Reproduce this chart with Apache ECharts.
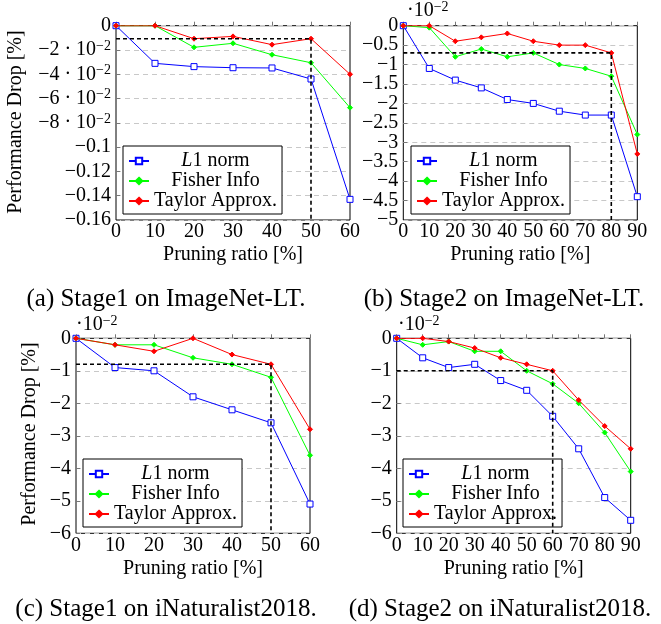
<!DOCTYPE html>
<html><head><meta charset="utf-8">
<script src="https://cdn.jsdelivr.net/npm/echarts@6/dist/echarts.min.js"></script>
<style>html,body{margin:0;padding:0;background:#fff}#c{width:661px;height:624px}</style>
</head><body><div id="c"></div><script>
const FONT = '"Liberation Serif", "Times New Roman", serif';

// Pruning ratios [%]
const ratiosStage1 = [0, 10, 20, 30, 40, 50, 60];
const ratiosStage2 = [0, 10, 20, 30, 40, 50, 60, 70, 80, 90];

// (a) Stage1 on ImageNet-LT, performance drop [%]
const aL1     = [0, -0.031, -0.0337, -0.0346, -0.0348, -0.0439, -0.143];
const aFisher = [0, 0, -0.0178, -0.0145, -0.0239, -0.0305, -0.0675];
const aTaylor = [0, 0, -0.0107, -0.0088, -0.0156, -0.0107, -0.040];
const aCut    = [50, -0.0107];

// (b) Stage2 on ImageNet-LT, performance drop [%] in units of 10^-2
const bL1     = [0, -1.1, -1.4, -1.6, -1.9, -2.0, -2.2, -2.3, -2.3, -4.4];
const bFisher = [0, -0.05, -0.8, -0.6, -0.8, -0.7, -1.0, -1.1, -1.3, -2.8];
const bTaylor = [0, 0, -0.4, -0.3, -0.2, -0.4, -0.5, -0.5, -0.7, -3.3];
const bCut    = [80, -0.7];

// (c) Stage1 on iNaturalist2018, in units of 10^-2
const cL1     = [0, -0.9, -1.0, -1.8, -2.2, -2.6, -5.1];
const cFisher = [0, -0.2, -0.2, -0.6, -0.8, -1.2, -3.6];
const cTaylor = [0, -0.2, -0.4, 0, -0.5, -0.8, -2.8];
const cCut    = [50, -0.8];

// (d) Stage2 on iNaturalist2018, in units of 10^-2
const dL1     = [0, -0.6, -0.9, -0.8, -1.3, -1.6, -2.4, -3.4, -4.9, -5.6];
const dFisher = [0, -0.2, -0.1, -0.4, -0.4, -1.0, -1.4, -2.0, -2.9, -4.1];
const dTaylor = [0, 0, -0.1, -0.3, -0.6, -0.8, -1.0, -1.9, -2.7, -3.4];
const dCut    = [60, -1.0];

const seriesNames = ['L1 norm', 'Fisher Info', 'Taylor Approx.'];
const captions = ['(a) Stage1 on ImageNet-LT.', '(b) Stage2 on ImageNet-LT.',
                  '(c) Stage1 on iNaturalist2018.', '(d) Stage2 on iNaturalist2018.'];
const yTitle = 'Performance Drop [%]';
const xTitle = 'Pruning ratio [%]';

const panels = [
  {x: ratiosStage1, l1: aL1, fi: aFisher, ta: aTaylor, cut: aCut, xMax: 60, yMin: -0.16, yInt: 0.02,
   grid: {left: 116, top: 25.7, width: 234, height: 194.3}, yName: {x: 16, y: 122},
   legend: {left: 123, top: 146}, caption: {x: 166, y: 299}, scale: null, fmt: 'a', dense: false},
  {x: ratiosStage2, l1: bL1, fi: bFisher, ta: bTaylor, cut: bCut, xMax: 90, yMin: -5, yInt: 0.5,
   grid: {left: 403.3, top: 25.7, width: 234, height: 194.3}, yName: null,
   legend: {left: 411, top: 146}, caption: {x: 504, y: 299}, scale: {x: 407, y: 11}, fmt: 'n', dense: true},
  {x: ratiosStage1, l1: cL1, fi: cFisher, ta: cTaylor, cut: cCut, xMax: 60, yMin: -6, yInt: 1,
   grid: {left: 76, top: 338.3, width: 234, height: 195}, yName: {x: 30, y: 434},
   legend: {left: 83, top: 459}, caption: {x: 166, y: 609}, scale: {x: 76, y: 325}, fmt: 'n', dense: false},
  {x: ratiosStage2, l1: dL1, fi: dFisher, ta: dTaylor, cut: dCut, xMax: 90, yMin: -6, yInt: 1,
   grid: {left: 396.7, top: 338.3, width: 234, height: 195}, yName: null,
   legend: {left: 403, top: 459}, caption: {x: 500, y: 609}, scale: {x: 398, y: 325}, fmt: 'n', dense: false}
];

const ctx = document.createElement('canvas').getContext('2d');
function tw(text, style) { ctx.font = (style || '') + ' 20px ' + FONT; return ctx.measureText(text).width; }
const TW = tw('Taylor Approx.');
const wL1 = tw('L', 'italic') + tw('1 norm');
const wFi = tw('Fisher Info');

const legendRich = {
  it: {fontStyle: 'italic', fontFamily: FONT, fontSize: 20, color: '#000', lineHeight: 20},
  n: {fontFamily: FONT, fontSize: 20, color: '#000', lineHeight: 20},
  spL: {width: (TW - wL1) / 2, height: 20},
  spF: {width: (TW - wFi) / 2, height: 20}
};
function legendFmt(name) {
  if (name === 'L1 norm') return '{spL|}{it|L}{n|1 norm}';
  if (name === 'Fisher Info') return '{spF|}{n|Fisher Info}';
  return '{n|' + name + '}';
}

function minus(s) { return s.replace('-', '\u2212'); }
function fmtA(v) {
  if (Math.abs(v) < 1e-9) return '0';
  const k = Math.round(-v * 100);
  if (k < 10) return '\u2212' + k + ' \u00b7 10{s|\u22122}';
  return '\u2212' + String(+(-v).toFixed(2));
}
function fmtN(v) {
  return Math.abs(v) < 1e-9 ? '0' : minus(String(+v.toFixed(2)));
}

const labelRich = {
  s: {fontFamily: FONT, fontSize: 14, color: '#000', padding: [0, 0, 8, 0]}
};
const labelBase = {fontFamily: FONT, fontSize: 20, color: '#000', margin: 5, hideOverlap: false};

const colors = ['#0000ff', '#00ff00', '#ff0000'];
const yAxes = panels.map((p, i) => ({
  type: 'value', gridIndex: i, position: 'left', min: p.yMin, max: 0, interval: p.yInt,
  axisLine: {show: false},
  axisTick: {show: true, inside: true, length: 4, lineStyle: {color: '#777'}},
  splitLine: {show: true, lineStyle: {color: '#c8c8c8', type: [5, 4], width: 1}},
  axisLabel: Object.assign({}, labelBase, {
    showMinLabel: !p.dense, showMaxLabel: !p.dense,
    formatter: p.fmt === 'a' ? fmtA : fmtN, rich: labelRich})
}));
// end labels for the densely labelled axis, on a companion axis of the same scale
panels.forEach((p, i) => {
  if (!p.dense) return;
  yAxes.push({
    type: 'value', gridIndex: i, position: 'left', offset: 0, min: p.yMin, max: 0, interval: -p.yMin,
    axisLine: {show: false, onZero: false}, axisTick: {show: false}, splitLine: {show: false},
    axisLabel: Object.assign({}, labelBase, {showMinLabel: true, showMaxLabel: true, formatter: fmtN})
  });
});

const option = {
  animation: false,
  backgroundColor: '#fff',
  grid: panels.map(p => Object.assign({show: true, borderColor: '#000', borderWidth: 1,
    backgroundColor: 'transparent', containLabel: false, outerBoundsMode: 'none'}, p.grid)),
  xAxis: panels.map((p, i) => ({
    type: 'value', gridIndex: i, min: 0, max: p.xMax, interval: 10,
    axisLine: {show: false},
    axisTick: {show: true, inside: true, length: 4, lineStyle: {color: '#777'}},
    splitLine: {show: false},
    axisLabel: {fontFamily: FONT, fontSize: 20, color: '#000', margin: 2,
      showMinLabel: true, showMaxLabel: true, hideOverlap: false},
    name: xTitle, nameLocation: 'middle', nameGap: 25, nameMoveOverlap: false,
    nameTextStyle: {fontFamily: FONT, fontSize: 20, color: '#000'}
  })),
  yAxis: yAxes,
  legend: panels.map(p => ({
    left: p.legend.left, top: p.legend.top, orient: 'vertical',
    data: seriesNames, itemWidth: 20, itemHeight: 8, itemGap: 0,
    padding: [5, 5, 3, 5], borderColor: '#000', borderWidth: 1, borderRadius: 0,
    backgroundColor: '#fff', selectedMode: false,
    formatter: legendFmt,
    textStyle: {fontFamily: FONT, fontSize: 20, color: '#000', rich: legendRich}
  })),
  series: [],
  graphic: []
};

panels.forEach((p, i) => {
  const sets = [p.l1, p.fi, p.ta];
  sets.forEach((vals, k) => {
    option.series.push({
      type: 'line', name: seriesNames[k], xAxisIndex: i, yAxisIndex: i,
      data: p.x.map((x, j) => [x, vals[j]]),
      symbol: k === 0 ? 'rect' : 'diamond',
      symbolSize: k === 0 ? 6 : 5,
      showSymbol: true, showAllSymbol: true,
      lineStyle: {color: colors[k], width: 1, type: 'solid'},
      itemStyle: {color: k === 0 ? '#ffffff' : colors[k], borderColor: colors[k], borderWidth: 1},
      z: 3 + k
    });
  });
  option.series.push({
    type: 'line', name: 'cut', xAxisIndex: i, yAxisIndex: i, silent: true,
    data: [[0, p.cut[1]], [p.cut[0], p.cut[1]], [p.cut[0], p.yMin]],
    symbol: 'none', lineStyle: {color: '#000', width: 1.6, type: [4, 3]}, z: 6
  });
  option.graphic.push({
    type: 'text', x: p.caption.x, y: p.caption.y,
    style: {text: captions[i], font: '25px ' + FONT, fill: '#000',
      textAlign: 'center', textVerticalAlign: 'middle', align: 'center', verticalAlign: 'middle'}
  });
  if (p.yName) {
    option.graphic.push({
      type: 'text', x: p.yName.x, y: p.yName.y, rotation: Math.PI / 2,
      style: {text: yTitle, font: '20px ' + FONT, fill: '#000',
        textAlign: 'center', textVerticalAlign: 'middle', align: 'center', verticalAlign: 'middle'}
    });
  }
  if (p.scale) {
    option.graphic.push({
      type: 'text', x: p.scale.x, y: p.scale.y,
      style: {text: '\u00b710{s|\u22122}', font: '20px ' + FONT, fill: '#000',
        textVerticalAlign: 'middle', verticalAlign: 'middle',
        rich: {s: {fontFamily: FONT, fontSize: 14, fill: '#000', padding: [0, 0, 8, 0]}}}
    });
  }
});

const chart = echarts.init(document.getElementById('c'));
chart.setOption(option);
</script></body></html>
